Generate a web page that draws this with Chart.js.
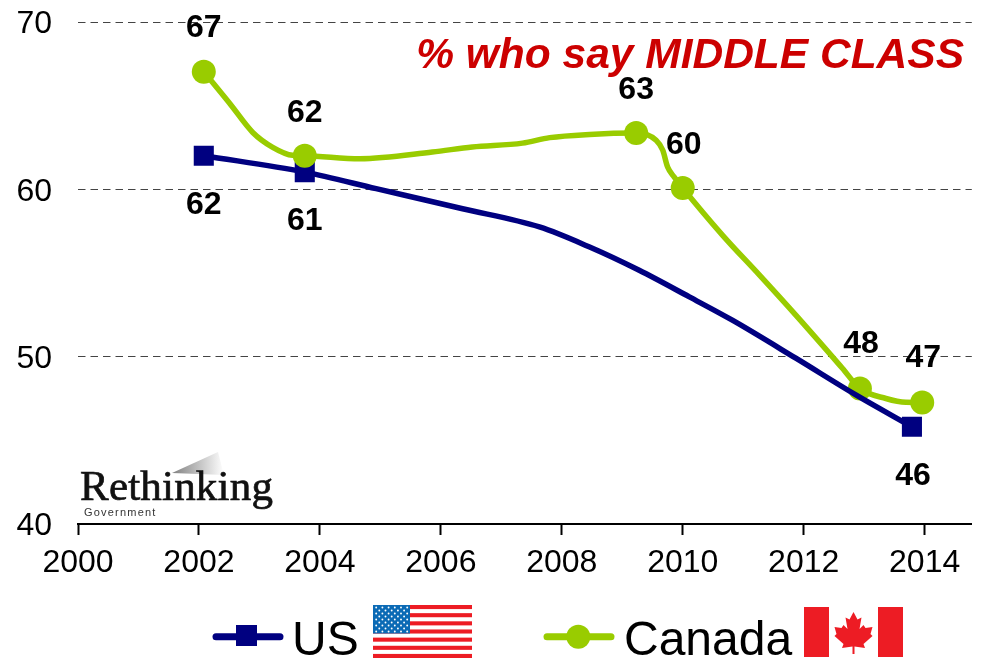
<!DOCTYPE html>
<html>
<head>
    <title>% who say MIDDLE CLASS</title>
    <script src="https://cdn.jsdelivr.net/npm/chart.js"></script>
    <style>
        html, body { margin: 0; padding: 0; background: #fff; overflow: hidden; }
        #wrap { position: relative; width: 981px; height: 658px; overflow: hidden; }
        #overlay { position: absolute; left: 0; top: 0; pointer-events: none; }
        text { font-family: "Liberation Sans", Arial, sans-serif; }
    </style>
</head>
<body>
    <div id="wrap">
        <!-- a few px wider than the window: the layout keeps a right margin it will not give up -->
        <canvas id="middleClassChart" width="986" height="658"></canvas>
        <svg id="overlay" width="981" height="658" xmlns="http://www.w3.org/2000/svg">
            <defs>
                <linearGradient id="logoFade" x1="0" y1="0" x2="1" y2="0">
                    <stop offset="0" stop-color="#808080"/>
                    <stop offset="1" stop-color="#ffffff"/>
                </linearGradient>
            </defs>
            <text x="964" y="68" text-anchor="end" font-size="42.5" font-weight="bold" font-style="italic" fill="#cc0000">% who say MIDDLE CLASS</text>

            <polygon points="172,473 218,452 224,475" fill="url(#logoFade)"/>
            <text x="80" y="500" font-size="43" letter-spacing="0.2" stroke="#111" stroke-width="0.7" fill="#111" style="font-family:'Liberation Serif',serif">Rethinking</text>
            <text x="84" y="516" font-size="11" letter-spacing="1.2" fill="#333">Government</text>

            <line x1="216" y1="636.7" x2="280" y2="636.7" stroke="#000080" stroke-width="7" stroke-linecap="round"/>
            <rect x="236" y="625" width="21" height="21" fill="#000080"/>
            <text x="292" y="655" font-size="48" fill="#000">US</text>
            <g id="usFlag"></g>

            <line x1="547" y1="636.7" x2="611" y2="636.7" stroke="#99cc00" stroke-width="7" stroke-linecap="round"/>
            <circle cx="578.3" cy="636.7" r="12" fill="#99cc00"/>
            <text x="624" y="655" font-size="48" fill="#000">Canada</text>
            <rect x="804" y="607" width="99" height="50" fill="#ffffff"/>
            <rect x="804" y="607" width="25" height="50" fill="#ed1c24"/>
            <rect x="878" y="607" width="25" height="50" fill="#ed1c24"/>
            <polygon transform="translate(853.5 633)" fill="#ed1c24"
                points="0,-21 4,-13.5 8,-15.5 6,-4 10,-8 12,-5 19,-6 17,1 19,3 10,11 11.5,15 1,13.5 1,21 -1,21 -1,13.5 -11.5,15 -10,11 -19,3 -17,1 -19,-6 -12,-5 -10,-8 -6,-4 -8,-15.5 -4,-13.5"/>
        </svg>
    </div>

    <script>
        // curve points
        const usYears = [2002.08, 2003.75, 2004.93, 2006.36, 2007.63, 2008.46, 2009.28, 2010.11, 2010.82, 2011.87, 2012.87, 2013.79];
        const usValues = [62.01, 61.03, 60.04, 58.84, 57.75, 56.55, 55.16, 53.57, 52.18, 49.91, 47.70, 45.81];
        const usMarkerYears = [2002.08, 2003.75, 2013.79];
        const usMarkerValues = [62.01, 61.03, 45.81];
        const usLabels = ['62', '61', '46'];

        const caYears = [2002.08, 2002.51, 2002.89, 2003.22, 2003.55, 2003.75, 2004.66, 2005.86, 2006.52, 2007.35, 2007.80, 2008.46, 2009.23, 2009.56, 2009.67, 2009.75, 2009.86, 2010.00, 2010.66, 2011.27, 2011.87, 2012.64, 2012.93, 2013.36, 2013.69, 2013.96];
        const caValues = [67.03, 65.13, 63.40, 62.51, 62.03, 62.01, 61.83, 62.23, 62.53, 62.76, 63.09, 63.28, 63.36, 62.93, 62.33, 61.33, 60.73, 60.08, 57.25, 54.87, 52.48, 49.31, 48.10, 47.50, 47.27, 47.26];
        const caMarkerYears = [2002.08, 2003.75, 2009.23, 2010.00, 2012.93, 2013.96];
        const caMarkerValues = [67.03, 62.01, 63.36, 60.08, 48.10, 47.26];
        const caLabels = ['67', '62', '63', '60', '48', '47'];

        const yTicks = [40, 50, 60, 70];

        const US_BLUE = '#000080';
        const CA_GREEN = '#99cc00';

        // label offsets from their marker, in pixels
        const usLabelOffsets = [[0, 49], [0, 49], [1, 49]];
        const caLabelOffsets = [[0, -44], [0, -43], [0, -43], [1, -43], [1, -44], [1, -44]];

        const pairs = (xs, ys) => xs.map((x, i) => ({ x: x, y: ys[i] }));

        const noScalePadding = scale => {
            scale.paddingLeft = 0;
            scale.paddingRight = 0;
            scale.paddingTop = 0;
            scale.paddingBottom = 0;
        };

        const valueLabels = {
            id: 'valueLabels',
            afterDatasetsDraw(chart) {
                const { ctx, scales } = chart;
                ctx.save();
                ctx.font = 'bold 32px "Liberation Sans", Arial, sans-serif';
                ctx.fillStyle = '#000';
                ctx.textAlign = 'center';
                ctx.textBaseline = 'middle';
                const put = (xs, ys, labels, offsets) => labels.forEach((text, i) => {
                    ctx.fillText(text,
                        scales.x.getPixelForValue(xs[i]) + offsets[i][0],
                        scales.y.getPixelForValue(ys[i]) + offsets[i][1]);
                });
                put(usMarkerYears, usMarkerValues, usLabels, usLabelOffsets);
                put(caMarkerYears, caMarkerValues, caLabels, caLabelOffsets);
                ctx.restore();
            }
        };

        new Chart(document.getElementById('middleClassChart').getContext('2d'), {
            type: 'line',
            data: {
                datasets: [
                    {
                        label: 'US markers',
                        data: pairs(usMarkerYears, usMarkerValues),
                        showLine: false,
                        pointStyle: 'rect',
                        pointRadius: 14.2,
                        pointBorderWidth: 0,
                        pointBackgroundColor: US_BLUE,
                        order: 3
                    },
                    {
                        label: 'Canada',
                        data: pairs(caYears, caValues),
                        borderColor: CA_GREEN,
                        borderWidth: 5.5,
                        cubicInterpolationMode: 'monotone',
                        pointRadius: ctx => caMarkerYears.includes(ctx.raw.x) ? 12 : 0,
                        pointBorderWidth: 0,
                        pointBackgroundColor: CA_GREEN,
                        order: 2
                    },
                    {
                        label: 'US',
                        data: pairs(usYears, usValues),
                        borderColor: US_BLUE,
                        borderWidth: 5.5,
                        cubicInterpolationMode: 'monotone',
                        pointRadius: 0,
                        order: 1
                    }
                ]
            },
            options: {
                responsive: false,
                animation: false,
                layout: { padding: { top: 22, right: 9, left: 0, bottom: 0 } },
                plugins: {
                    legend: { display: false },
                    title: { display: false },
                    tooltip: { enabled: false }
                },
                scales: {
                    x: {
                        type: 'linear',
                        min: 2000,
                        max: 2014.78,
                        afterFit(scale) {
                            scale.height = 134;
                            noScalePadding(scale);
                        },
                        ticks: {
                            stepSize: 2,
                            includeBounds: false,
                            maxRotation: 0,
                            autoSkip: false,
                            color: '#000',
                            padding: 9,
                            font: { family: '"Liberation Sans", Arial, sans-serif', size: 32 },
                            callback: value => String(value)
                        },
                        grid: {
                            drawOnChartArea: false,
                            drawTicks: true,
                            tickLength: 11,
                            tickColor: '#000',
                            tickWidth: 2
                        },
                        border: { color: '#000', width: 2 }
                    },
                    y: {
                        min: 40,
                        max: 70,
                        afterFit(scale) {
                            scale.width = 78;
                            noScalePadding(scale);
                        },
                        afterBuildTicks(scale) { scale.ticks = yTicks.map(v => ({ value: v })); },
                        ticks: {
                            color: '#000',
                            padding: 26,
                            labelOffset: 2.5,
                            font: { family: '"Liberation Sans", Arial, sans-serif', size: 32 }
                        },
                        grid: {
                            drawTicks: false,
                            color: '#444',
                            lineWidth: 1
                        },
                        border: { display: false, dash: [7.5, 5] }
                    }
                }
            },
            plugins: [valueLabels]
        });

        // flag decoration for the legend
        const svgNS = 'http://www.w3.org/2000/svg';
        const flag = document.getElementById('usFlag');
        function addShape(tag, attrs) {
            const el = document.createElementNS(svgNS, tag);
            Object.keys(attrs).forEach(k => el.setAttribute(k, attrs[k]));
            flag.appendChild(el);
        }
        addShape('rect', { x: 373, y: 605, width: 99, height: 53, fill: '#ffffff' });
        for (let i = 0; i < 13; i += 2) {
            addShape('rect', { x: 373, y: 605 + i * 53 / 13, width: 99, height: 53 / 13, fill: '#ed1c24' });
        }
        addShape('rect', { x: 373, y: 605, width: 37, height: 28.5, fill: '#0b6ab5' });
        for (let row = 0; row < 9; row++) {
            const count = row % 2 ? 5 : 6;
            for (let col = 0; col < count; col++) {
                addShape('circle', {
                    cx: 376.2 + col * 6.2 + (row % 2 ? 3.1 : 0),
                    cy: 607.5 + row * 3,
                    r: 0.95,
                    fill: '#ffffff'
                });
            }
        }
    </script>
</body>
</html>
